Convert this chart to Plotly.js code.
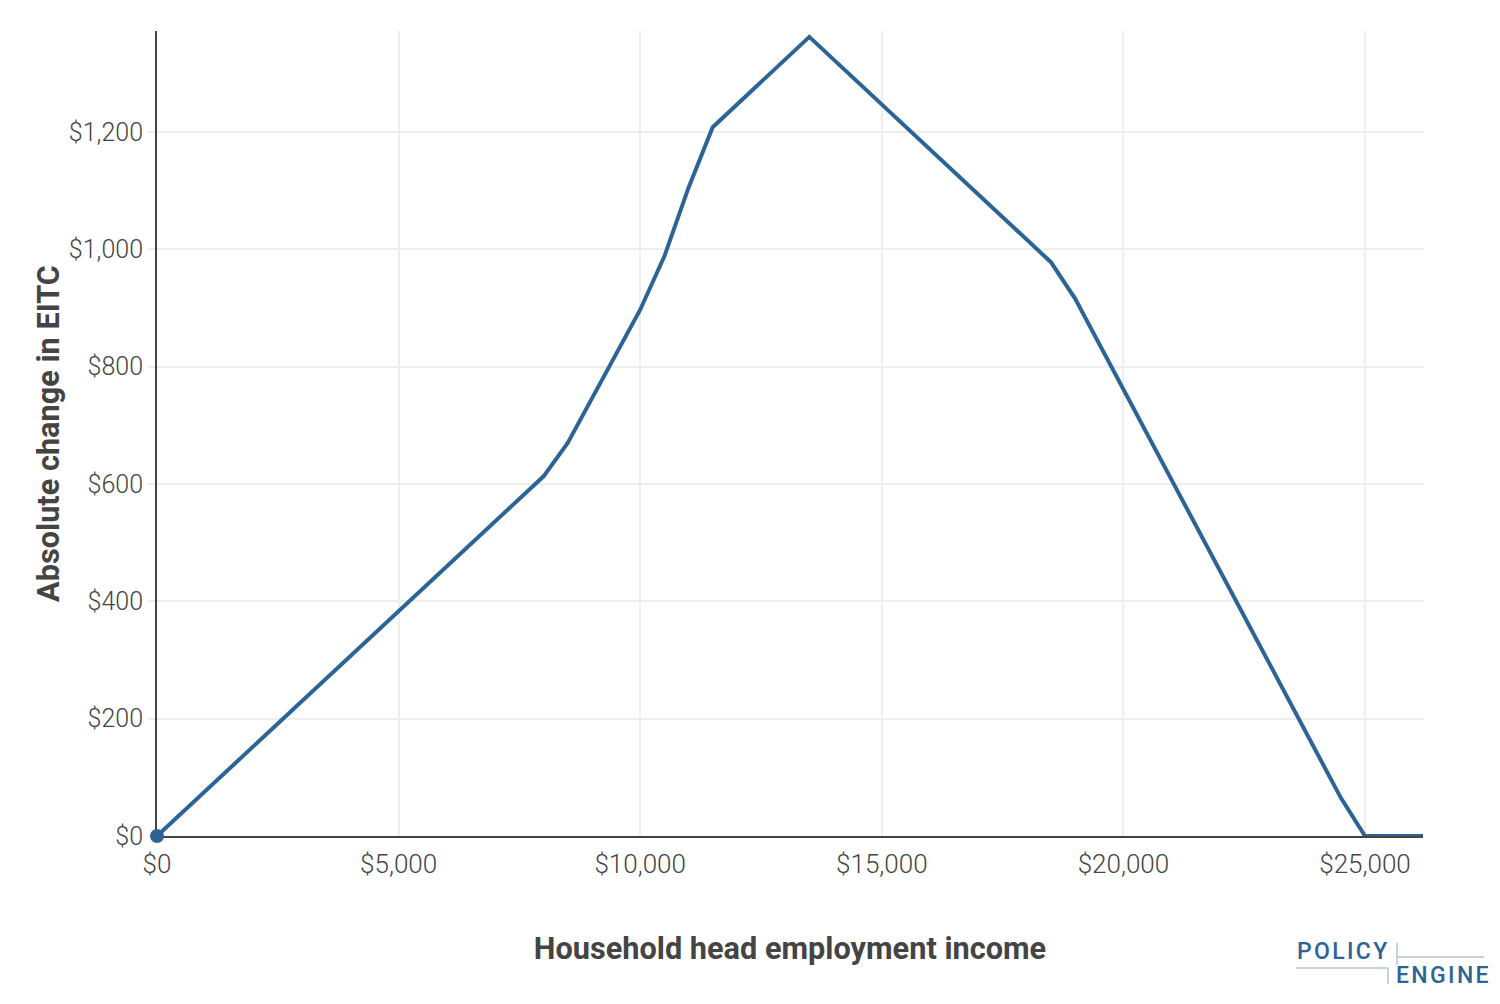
<!DOCTYPE html>
<html>
<head>
<meta charset="utf-8">
<script src="https://cdn.plot.ly/plotly-3.0.1.min.js"></script>
<style>html,body{margin:0;padding:0;background:#fff;}</style>
</head>
<body>
<div id="chart" style="width:1500px;height:1004px;"></div>
<script>
// Household head employment income (USD)
const income = [0, 8000, 8500, 10000, 10500, 11000, 11500, 13500, 18500, 19000, 24500, 25000, 26200];
// Absolute change in EITC (USD)
const eitcChange = [0, 613, 670, 897, 988, 1105, 1208, 1362, 978, 916, 65, 0, 0];

const xTicks = [0, 5000, 10000, 15000, 20000, 25000];
const xTickLabels = ['$0', '$5,000', '$10,000', '$15,000', '$20,000', '$25,000'];
const yTicks = [0, 200, 400, 600, 800, 1000, 1200];
const yTickLabels = ['$0', '$200', '$400', '$600', '$800', '$1,000', '$1,200'];

const blue = '#2C6496';
const logoLine = '#C5D3E0';

const traces = [
  {
    x: income, y: eitcChange, type: 'scatter', mode: 'lines',
    line: {color: blue, width: 4}, hoverinfo: 'skip', cliponaxis: false
  },
  {
    x: [income[0]], y: [eitcChange[0]], type: 'scatter', mode: 'markers',
    marker: {color: blue, size: 14}, cliponaxis: false, hoverinfo: 'skip'
  }
];

const layout = {
  width: 1500, height: 1004,
  margin: {l: 157, r: 77, t: 31, b: 168},
  paper_bgcolor: '#fff', plot_bgcolor: '#fff',
  showlegend: false,
  font: {family: 'Roboto, sans-serif', color: '#444', size: 20},
  xaxis: {
    range: [0, 26200],
    tickvals: xTicks, ticktext: xTickLabels,
    showgrid: true, gridcolor: '#eee', gridwidth: 2,
    showline: true, linecolor: '#444', linewidth: 2,
    zeroline: false, layer: 'below traces',
    ticks: '', ticklabelstandoff: 4,
    tickfont: {family: 'Roboto, sans-serif', size: 26, color: '#444', weight: 300},
    title: {text: 'Household head employment income', standoff: 59,
            font: {family: 'Roboto, sans-serif', size: 30.7, color: '#444', weight: 700}}
  },
  yaxis: {
    range: [0, 1372],
    tickvals: yTicks, ticktext: yTickLabels,
    showgrid: true, gridcolor: '#eee', gridwidth: 2,
    showline: true, linecolor: '#444', linewidth: 2,
    zeroline: false, layer: 'below traces',
    ticks: 'outside', ticklen: 7, tickcolor: '#eee', tickwidth: 2,
    tickfont: {family: 'Roboto, sans-serif', size: 25, color: '#444', weight: 300},
    title: {text: 'Absolute change in EITC', standoff: 0,
            font: {family: 'Roboto, sans-serif', size: 30.7, color: '#444', weight: 700}}
  },
  shapes: [
    {type: 'line', xref: 'paper', yref: 'paper', x0: 1.0 + (1397-1423)/1266, x1: 1.0 + (1484-1423)/1266,
     y0: (836-957)/805, y1: (836-957)/805, line: {color: logoLine, width: 2}},
    {type: 'line', xref: 'paper', yref: 'paper', x0: 1.0 + (1397-1423)/1266, x1: 1.0 + (1397-1423)/1266,
     y0: (836-943)/805, y1: (836-965)/805, line: {color: logoLine, width: 2}},
    {type: 'line', xref: 'paper', yref: 'paper', x0: (1296-157)/1266, x1: (1388-157)/1266,
     y0: (836-968)/805, y1: (836-968)/805, line: {color: logoLine, width: 2}},
    {type: 'line', xref: 'paper', yref: 'paper', x0: (1388-157)/1266, x1: (1388-157)/1266,
     y0: (836-968)/805, y1: (836-984)/805, line: {color: logoLine, width: 2}}
  ],
  annotations: [
    {text: 'P\u200AO\u200AL\u200AI\u200AC\u200AY', xref: 'paper', yref: 'paper',
     x: (1295-157)/1266, y: (836-951)/805, xanchor: 'left', yanchor: 'middle', showarrow: false,
     font: {family: 'Roboto, sans-serif', size: 23, color: blue, weight: 500}},
    {text: 'E\u200AN\u200AG\u200AI\u200AN\u200AE', xref: 'paper', yref: 'paper',
     x: (1394-157)/1266, y: (836-976)/805, xanchor: 'left', yanchor: 'middle', showarrow: false,
     font: {family: 'Roboto, sans-serif', size: 23, color: blue, weight: 500}}
  ]
};

Plotly.newPlot('chart', traces, layout, {displayModeBar: false, staticPlot: true});
</script>
</body>
</html>
